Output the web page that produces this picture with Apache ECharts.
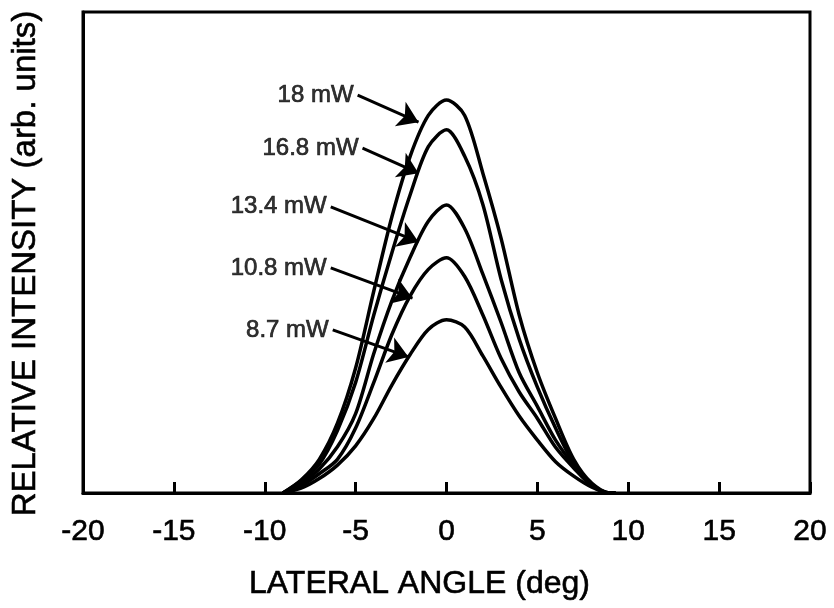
<!DOCTYPE html>
<html>
<head>
<meta charset="utf-8">
<script src="https://cdn.jsdelivr.net/npm/echarts@6/dist/echarts.min.js"></script>
<style>html,body{margin:0;padding:0;background:#fff}#c{width:834px;height:608px}</style>
</head>
<body>
<div id="c"></div>
<script>
// Lateral angle (deg) sample positions
const angles = [-9,-8,-7,-6,-5,-4,-3,-2,-1,0,1,2,3,4,5,6,7,8,9,9.3];
// Relative intensity (arb. units)
const p18   = [0,0.027,0.07,0.145,0.26,0.42,0.575,0.70,0.785,0.817,0.785,0.665,0.53,0.37,0.25,0.155,0.07,0.02,0,0];
const p168  = [0,0.025,0.06,0.13,0.23,0.37,0.50,0.62,0.72,0.755,0.70,0.60,0.445,0.32,0.22,0.135,0.062,0.018,0,0];
const p134  = [0,0.02,0.05,0.096,0.165,0.29,0.40,0.49,0.565,0.599,0.55,0.455,0.355,0.25,0.18,0.11,0.058,0.016,0,0];
const p108  = [0,0.015,0.04,0.07,0.135,0.23,0.33,0.41,0.465,0.489,0.45,0.37,0.28,0.21,0.155,0.095,0.052,0.015,0,0];
const p87   = [0,0.01,0.03,0.058,0.098,0.155,0.225,0.288,0.34,0.36,0.345,0.285,0.22,0.16,0.11,0.065,0.035,0.012,0,0];
const seriesNames = ['18 mW','16.8 mW','13.4 mW','10.8 mW','8.7 mW'];
const seriesValues = [p18,p168,p134,p108,p87];
// Annotation arrows: label anchor (start) and arrow tip, in data coordinates
const arrowStart = [[-4.89,0.827],[-4.62,0.717],[-6.37,0.595],[-6.37,0.468],[-6.26,0.339]];
const arrowTip   = [[-1.54,0.771],[-1.54,0.665],[-1.54,0.522],[-1.87,0.405],[-2.09,0.283]];
const xTicks = [-20,-15,-10,-5,0,5,10,15,20];

const FONT = '"Liberation Sans", Arial, Helvetica, sans-serif';
const chart = echarts.init(document.getElementById('c'), null, {renderer:'canvas'});

const lineSeries = seriesValues.map((vals, i) => ({
  name: seriesNames[i],
  type: 'line',
  data: angles.map((a, j) => [a, vals[j]]),
  smooth: 0.3,
  showSymbol: false,
  symbol: 'none',
  lineStyle: {color: '#000', width: 3.5},
  z: 3,
  animation: false
}));

const arrowSeries = {
  type: 'line',
  data: [],
  silent: true,
  animation: false,
  markLine: {
    silent: true,
    animation: false,
    symbol: ['none', 'arrow'],
    symbolSize: 20,
    label: {show: false},
    lineStyle: {color: '#000', width: 3, type: 'solid'},
    itemStyle: {color: '#000'},
    emphasis: {disabled: true},
    data: arrowStart.map((s, i) => [{coord: s}, {coord: arrowTip[i]}])
  }
};

const labelSeries = {
  type: 'scatter',
  symbolSize: 0,
  silent: true,
  animation: false,
  data: arrowStart.map((s, i) => ({value: s, name: seriesNames[i]})),
  label: {
    show: true,
    position: 'left',
    distance: 4,
    formatter: p => p.name,
    color: '#000',
    fontFamily: FONT,
    fontSize: 24,
    textBorderColor: '#000',
    textBorderWidth: 0.7
  }
};

chart.setOption({
  backgroundColor: '#fff',
  animation: false,
  grid: {left: 83, right: 24, top: 12, bottom: 115, show: true, borderColor: '#000', borderWidth: 3, containLabel: false, outerBoundsMode: 'none'},
  xAxis: {
    type: 'value', min: -20, max: 20, interval: 5,
    name: 'LATERAL ANGLE (deg)', nameLocation: 'middle', nameGap: 75,
    nameTextStyle: {fontFamily: FONT, fontSize: 32, color: '#000', padding: [0, 54, 0, 0], textBorderColor: '#000', textBorderWidth: 0.6},
    axisLine: {show: true, onZero: false, lineStyle: {color: '#000', width: 3}},
    axisTick: {show: true, inside: true, length: 11, lineStyle: {color: '#000', width: 3}},
    axisLabel: {fontFamily: FONT, fontSize: 30, color: '#000', margin: 24, textBorderColor: '#000', textBorderWidth: 0.6,
      formatter: v => xTicks.includes(v) ? String(v) : ''},
    splitLine: {show: false}
  },
  yAxis: {
    type: 'value', min: 0, max: 1,
    name: 'RELATIVE INTENSITY (arb. units)', nameLocation: 'middle', nameGap: 41,
    nameTextStyle: {fontFamily: FONT, fontSize: 33, color: '#000', padding: [0, 22, 0, 0], textBorderColor: '#000', textBorderWidth: 0.6},
    axisLine: {show: true, onZero: false, lineStyle: {color: '#000', width: 3}},
    axisTick: {show: false},
    axisLabel: {show: false},
    splitLine: {show: false}
  },
  series: [...lineSeries, arrowSeries, labelSeries]
});
</script>
</body>
</html>
